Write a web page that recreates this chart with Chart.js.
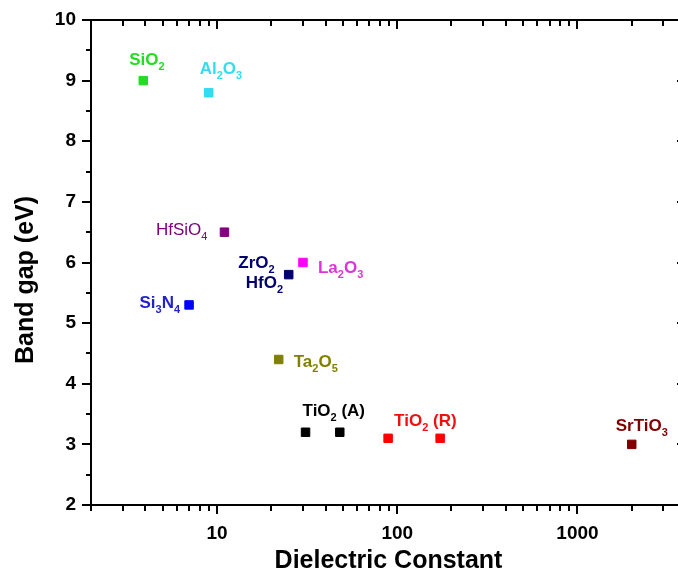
<!DOCTYPE html>
<html><head><meta charset="utf-8">
<script src="https://cdn.jsdelivr.net/npm/chart.js@4/dist/chart.umd.min.js"></script>
<style>
html,body{margin:0;padding:0;background:#fff;overflow:hidden;width:678px;height:582px}
#wrap{width:700px;height:582px;position:relative}
</style>
</head><body><div id="wrap"><canvas id="c" width="700" height="582"></canvas></div>
<script>
// ---- data ----
const materials = ['SiO2','Al2O3','HfSiO4','ZrO2/HfO2','La2O3','Si3N4','Ta2O5','TiO2 (A)','TiO2 (A)','TiO2 (R)','TiO2 (R)','SrTiO3'];
const dielectricConstant = [3.9, 9, 11, 25, 30, 7, 22, 31, 48, 89, 173, 2000];
const bandGap = [9.0, 8.8, 6.5, 5.8, 6.0, 5.3, 4.4, 3.2, 3.2, 3.1, 3.1, 3.0];
const xTickLabels = [10, 100, 1000];
const yTickLabels = [2, 3, 4, 5, 6, 7, 8, 9, 10];
const labelTexts = ['SiO_2','Al_2O_3','HfSiO_4','ZrO_2','HfO_2','La_2O_3','Si_3N_4','Ta_2O_5','TiO_2 (A)','TiO_2 (R)','SrTiO_3'];
const xTitle = 'Dielectric Constant';
const yTitle = 'Band gap (eV)';

// ---- styles ----
const pointColors = ['#22dd22','#33ddee','#800080','#000070','#ff00ff','#0000ff','#808000','#000000','#000000','#ff0000','#ff0000','#800000'];
const labelColors = ['#22dd22','#33ddee','#800080','#000070','#000070','#dd33dd','#2222cc','#808000','#000000','#ee1111','#800000'];
const labelPlacement = [
  {pt:0, dx:-14, dy:-16, align:'left', bold:true},
  {pt:1, dx:-9, dy:-19, align:'left', bold:true},
  {pt:2, dx:-17, dy:3, align:'right', bold:false},
  {pt:3, dx:-14, dy:-7, align:'right', bold:true},
  {pt:3, dx:-43, dy:13, align:'left', bold:true},
  {pt:4, dx:15, dy:10, align:'left', bold:true},
  {pt:5, dx:-9, dy:3, align:'right', bold:true},
  {pt:6, dx:15, dy:7, align:'left', bold:true},
  {pt:7, dx:-3, dy:-16, align:'left', bold:true},
  {pt:9, dx:6, dy:-12, align:'left', bold:true},
  {pt:11, dx:-16, dy:-13, align:'left', bold:true}
];
const FONT = "'Liberation Sans', Arial, sans-serif";

function parseParts(s){
  const parts=[]; let i=0; let buf='';
  while(i<s.length){
    if(s[i]==='_' && i+1<s.length){ if(buf){parts.push({t:buf,sub:false});buf='';} parts.push({t:s[i+1],sub:true}); i+=2; }
    else { buf+=s[i]; i++; }
  }
  if(buf) parts.push({t:buf,sub:false});
  return parts;
}

const framePlugin = {
  id:'frame',
  afterDatasetsDraw(chart){
    const ctx=chart.ctx, ca=chart.chartArea, xs=chart.scales.x, ys=chart.scales.y;
    ctx.save();
    ctx.strokeStyle='#000'; ctx.lineWidth=2; ctx.lineCap='butt';
    ctx.beginPath();
    ctx.moveTo(ca.left, ca.top); ctx.lineTo(ca.right, ca.top);
    ctx.moveTo(ca.left, ca.bottom); ctx.lineTo(ca.right, ca.bottom);
    ctx.moveTo(ca.left, ca.top-1); ctx.lineTo(ca.left, ca.bottom+1);
    ctx.moveTo(ca.right, ca.top-1); ctx.lineTo(ca.right, ca.bottom+1);
    ctx.stroke();
    // x ticks
    ctx.beginPath();
    for(let e=0;e<=4;e++){
      for(let d=1;d<=9;d++){
        const v=d*Math.pow(10,e);
        if(v<xs.min-1e-9||v>xs.max+1e-9) continue;
        const px=Math.round(xs.getPixelForValue(v));
        const len = d===1?9:6;
        ctx.moveTo(px, ca.bottom); ctx.lineTo(px, ca.bottom+len);
        ctx.moveTo(px, ca.top); ctx.lineTo(px, ca.top+len);
      }
    }
    // y ticks
    for(let v=ys.min; v<=ys.max+1e-9; v+=0.5){
      const py=Math.round(ys.getPixelForValue(v));
      const len = Number.isInteger(v)?9:5;
      ctx.moveTo(ca.left-len, py); ctx.lineTo(ca.left, py);
      ctx.moveTo(ca.right-len, py); ctx.lineTo(ca.right, py);
    }
    ctx.stroke();
    // y title
    ctx.fillStyle='#000';
    ctx.font="bold 25px "+FONT;
    ctx.textAlign='center'; ctx.textBaseline='middle';
    ctx.translate(26, 280); ctx.rotate(-Math.PI/2);
    ctx.fillText(yTitle, 0, 0);
    ctx.restore();

    // labels
    const meta=chart.getDatasetMeta(0);
    ctx.save();
    ctx.textBaseline='alphabetic'; ctx.textAlign='left';
    labelTexts.forEach((txt,i)=>{
      const pl=labelPlacement[i];
      const el=meta.data[pl.pt];
      const parts=parseParts(txt);
      const w=pl.bold?'bold ':'';
      const mainF=w+'17px '+FONT, subF=w+'11px '+FONT;
      let total=0;
      parts.forEach(p=>{ctx.font=p.sub?subF:mainF; total+=ctx.measureText(p.t).width;});
      let x = el.x + pl.dx; if(pl.align==='right') x -= total;
      const y = el.y + pl.dy;
      ctx.fillStyle=labelColors[i];
      parts.forEach(p=>{
        ctx.font=p.sub?subF:mainF;
        ctx.fillText(p.t, x, p.sub? y+5 : y);
        x+=ctx.measureText(p.t).width;
      });
    });
    ctx.restore();
  }
};

const isPow10 = v => { const l=Math.log10(v); return Math.abs(l-Math.round(l))<1e-9; };

new Chart(document.getElementById('c'), {
  type:'scatter',
  data:{
    datasets:[{
      label:'Band gap',
      data: dielectricConstant.map((k,i)=>({x:k, y:bandGap[i]})),
      pointStyle:'rect',
      pointRadius:6, pointHoverRadius:6,
      pointBackgroundColor: pointColors,
      pointBorderColor: pointColors,
      pointBorderWidth:1
    }]
  },
  options:{
    responsive:false, animation:false,
    events:[],
    layout:{padding:{top:20, right:14, left:0, bottom:0}},
    plugins:{legend:{display:false}, tooltip:{enabled:false}},
    scales:{
      x:{
        type:'logarithmic', min:2, max:4000,
        grid:{display:true, drawOnChartArea:false, drawTicks:true, tickLength:9, color:'rgba(0,0,0,0)'},
        border:{display:false},
        ticks:{autoSkip:false, maxRotation:0, padding:8, color:'#000',
          font:{family:FONT, size:19, weight:'bold'},
          callback:(v)=> (isPow10(v) && xTickLabels.some(t=>Math.abs(t-v)<1e-6)) ? String(Math.round(v)) : ''},
        title:{display:true, text:xTitle, color:'#000', font:{family:FONT, size:25, weight:'bold'}, padding:{top:4, bottom:6}},
        afterFit:(s)=>{ s.height=77; }
      },
      y:{
        min:2, max:10,
        grid:{display:true, drawOnChartArea:false, drawTicks:true, tickLength:9, color:'rgba(0,0,0,0)'},
        border:{display:false},
        ticks:{stepSize:1, padding:6, color:'#000',
          font:{family:FONT, size:19, weight:'bold'},
          callback:(v)=> yTickLabels.includes(v) ? String(v) : ''},
        afterFit:(s)=>{ s.width=91; }
      }
    }
  },
  plugins:[framePlugin]
});
</script>
</body></html>
